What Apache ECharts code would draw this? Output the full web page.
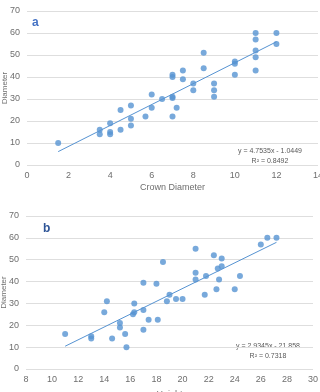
<!DOCTYPE html>
<html>
<head>
<meta charset="utf-8">
<script src="https://cdn.jsdelivr.net/npm/echarts@6/dist/echarts.min.js"></script>
<style>
  html, body { margin: 0; padding: 0; background: #fff; }
  #chart { width: 320px; height: 392px; }
</style>
</head>
<body>
<div id="chart"></div>
<script>
// panel a: crown diameter vs diameter
var crownX = [1.5, 3.5, 3.5, 4, 4, 4, 4.5, 4.5, 5, 5, 5, 5.7, 6, 6, 6.5, 7, 7, 7, 7, 7, 7.2,
  7.5, 7.5, 8, 8, 8.5, 8.5, 9, 9, 9, 10, 10, 10, 11, 11, 11, 11, 11, 12, 12];
var crownY = [10, 16, 14, 19, 15, 14, 25, 16, 27, 21, 18, 22, 32, 26, 30, 41, 40, 31, 30.5, 22, 26,
  43, 39, 37, 34, 51, 44, 37, 34, 31, 47, 46, 41, 60, 57, 52, 49, 43, 60, 55];
var trendA = { slope: 4.7535, icpt: -1.0449, from: 1.5, to: 12 };

// panel b: height vs diameter
var heightX = [11, 13, 13, 14, 14.2, 14.6, 15.2, 15.2, 15.6, 15.7, 16.2, 16.3, 16.3, 17, 17, 17,
  17.4, 18, 18.1, 18.5, 18.8, 19, 19.5, 20, 21, 21, 21, 21.8, 21.7, 22.4, 22.6, 22.7, 22.8,
  23, 23, 24, 24.4, 26, 26.5, 27.2];
var heightY = [16, 15, 14, 26, 31, 14, 21, 19, 16, 10, 25, 26, 30, 39.5, 27, 18,
  22.5, 39, 22.5, 49, 31, 34, 32, 32, 55, 44, 41, 42.5, 34, 52, 36.5, 46, 41,
  50.5, 47, 36.5, 42.5, 57, 60, 60];
var trendB = { slope: 2.9345, icpt: -21.858, from: 11, to: 27.2 };

var eqA = ['y = 4.7535x - 1.0449', 'R\u00b2 = 0.8492'];
var eqB = ['y = 2.9345x - 21.858', 'R\u00b2 = 0.7318'];

function pairs(xs, ys) {
  var out = [];
  for (var i = 0; i < xs.length; i++) out.push([xs[i], ys[i]]);
  return out;
}
function trendPts(t) {
  return [[t.from, t.slope * t.from + t.icpt], [t.to, t.slope * t.to + t.icpt]];
}

var dotColor = '#5693d2';
var labelColor = '#6e6e6e';
var font = 'Liberation Sans';

function xAxisCfg(idx, min, max, step, name, gap) {
  return {
    gridIndex: idx, type: 'value', min: min, max: max, interval: step,
    name: name, nameLocation: 'middle', nameGap: gap, nameMoveOverlap: false,
    nameTextStyle: { color: labelColor, fontSize: 9, fontFamily: font },
    axisLine: { show: false }, axisTick: { show: false },
    splitLine: { show: false },
    axisLabel: { color: labelColor, fontSize: 9, fontFamily: font, margin: 6 }
  };
}
function yAxisCfg(idx) {
  return {
    gridIndex: idx, type: 'value', min: 0, max: 70, interval: 10,
    name: 'Diameter', nameLocation: 'middle', nameGap: 18, nameRotate: 90, nameMoveOverlap: false,
    nameTextStyle: { color: labelColor, fontSize: 8, fontFamily: font },
    axisLine: { show: false }, axisTick: { show: false },
    splitLine: { lineStyle: { color: '#dedede', width: 1 } },
    axisLabel: { color: labelColor, fontSize: 9, fontFamily: font, margin: 7 }
  };
}

var myChart = echarts.init(document.getElementById('chart'), null, { renderer: 'canvas' });
var option = {
  backgroundColor: '#fff',
  animation: false,
  grid: [
    { left: 27, top: 11, width: 291, height: 154, outerBoundsMode: 'none', containLabel: false },
    { left: 26, top: 216, width: 287, height: 153, outerBoundsMode: 'none', containLabel: false }
  ],
  xAxis: [
    xAxisCfg(0, 0, 14, 2, 'Crown Diameter', 18),
    xAxisCfg(1, 8, 30, 2, 'Height', 21)
  ],
  yAxis: [yAxisCfg(0), yAxisCfg(1)],
  series: [
    { type: 'line', xAxisIndex: 0, yAxisIndex: 0, data: trendPts(trendA), symbol: 'none',
      lineStyle: { color: dotColor, width: 1 }, z: 1 },
    { type: 'scatter', xAxisIndex: 0, yAxisIndex: 0, data: pairs(crownX, crownY),
      symbolSize: 6, itemStyle: { color: dotColor }, z: 2 },
    { type: 'line', xAxisIndex: 1, yAxisIndex: 1, data: trendPts(trendB), symbol: 'none',
      lineStyle: { color: dotColor, width: 1 }, z: 1 },
    { type: 'scatter', xAxisIndex: 1, yAxisIndex: 1, data: pairs(heightX, heightY),
      symbolSize: 6, itemStyle: { color: dotColor }, z: 2 }
  ],
  graphic: [
    { type: 'text', left: 32, top: 17, style: { text: 'a', fill: '#4472c4', font: 'bold 12px ' + font } },
    { type: 'text', left: 43, top: 223, style: { text: 'b', fill: '#2f5597', font: 'bold 12px ' + font } },
    { type: 'text', x: 270, y: 151, style: { text: eqA[0], fill: '#595959', font: '7px ' + font, align: 'center', verticalAlign: 'middle' } },
    { type: 'text', x: 270, y: 161, style: { text: eqA[1], fill: '#595959', font: '7px ' + font, align: 'center', verticalAlign: 'middle' } },
    { type: 'text', x: 268, y: 346, style: { text: eqB[0], fill: '#595959', font: '7px ' + font, align: 'center', verticalAlign: 'middle' } },
    { type: 'text', x: 268, y: 356, style: { text: eqB[1], fill: '#595959', font: '7px ' + font, align: 'center', verticalAlign: 'middle' } }
  ]
};
myChart.setOption(option);
</script>
</body>
</html>
